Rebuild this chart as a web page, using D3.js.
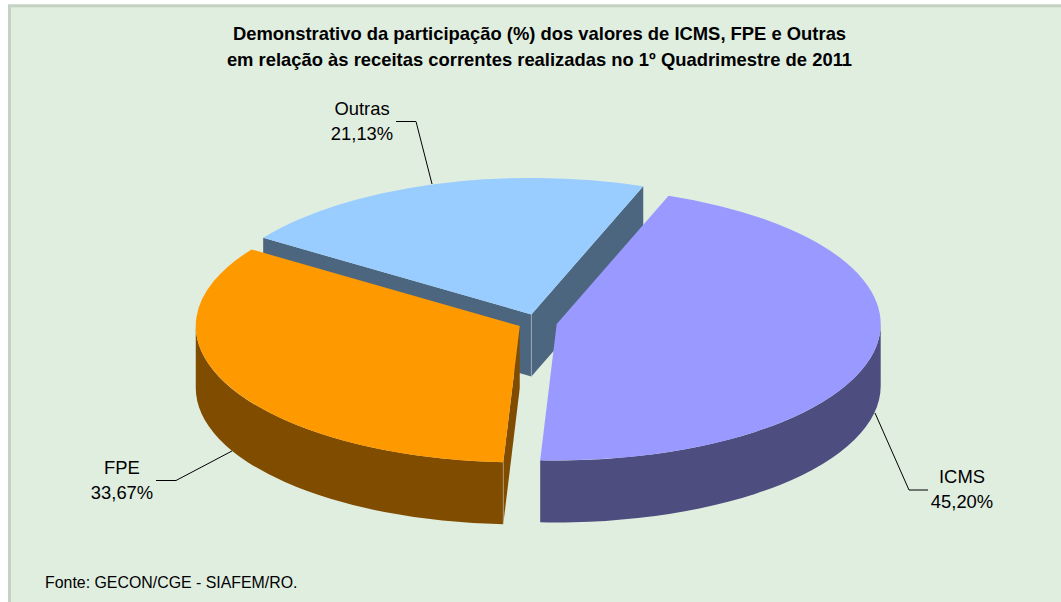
<!DOCTYPE html>
<html>
<head>
<meta charset="utf-8">
<script src="https://cdnjs.cloudflare.com/ajax/libs/d3/7.8.5/d3.min.js"></script>
<style>
  html, body { margin: 0; padding: 0; background: #fff; }
  svg { display: block; }
  text { font-family: "Liberation Sans", Arial, sans-serif; fill: #000; }
</style>
</head>
<body>
<svg id="chart" width="1061" height="602"></svg>
<script>
// ── Data ─────────────────────────────────────────────
const categories = ['ICMS', 'FPE', 'Outras'];
const values     = [45.20, 33.67, 21.13];
const valueLabels = ['45,20%', '33,67%', '21,13%'];
const topColors  = ['#9999ff', '#ff9900', '#99ccff'];
const sideColors = ['#4d4d80', '#804d00', '#4d6680'];
const titleLines = [
  'Demonstrativo da participação (%) dos valores de ICMS, FPE e Outras',
  'em relação às receitas correntes realizadas no 1º Quadrimestre de 2011'
];
const sourceNote = 'Fonte: GECON/CGE - SIAFEM/RO.';

// ── Layout ───────────────────────────────────────────
const W = 1061, H = 602;
const cx = 537.4, cy = 322.3;
const rx = 324, ry = 136.5;
const depth = 62;
const explode = 19.7;
const firstAngle = 20.2 * Math.PI / 180;
const squash = ry / rx;

const svg = d3.select('#chart');

svg.append('rect')
  .attr('x', 9.5).attr('y', 5.8)
  .attr('width', W).attr('height', H)
  .attr('fill', '#e0eee0')
  .attr('stroke', '#c3d2c3')
  .attr('stroke-width', 3);

svg.append('g').selectAll('text')
  .data(titleLines)
  .join('text')
    .attr('x', 539.5)
    .attr('y', (d, i) => 40 + i * 26)
    .attr('text-anchor', 'middle')
    .attr('font-size', 18.4)
    .attr('font-weight', 'bold')
    .text(d => d);

svg.append('text')
  .attr('x', 45).attr('y', 588)
  .attr('font-size', 15.9)
  .text(sourceNote);

// ── Pie ──────────────────────────────────────────────
const pie = d3.pie().sort(null)
  .startAngle(firstAngle)
  .endAngle(firstAngle + 2 * Math.PI);
const slices = pie(values);
const arcTop = d3.arc().innerRadius(0).outerRadius(rx);

// rim point of a slice at angle a (clockwise from north)
const rim = (o, a) => [o[0] + Math.sin(a) * rx, o[1] - Math.cos(a) * ry];

function offset(s) {
  const mid = (s.startAngle + s.endAngle) / 2;
  return [cx + Math.sin(mid) * explode, cy - Math.cos(mid) * explode * squash];
}

// Flat cut face running from the slice apex to the rim at angle a
function cutFace(o, a) {
  const [x, y] = rim(o, a);
  return `M${o[0]},${o[1]}L${x},${y}L${x},${y + depth}L${o[0]},${o[1] + depth}Z`;
}

// Outer wall, front half only (90°–270° clockwise from north)
function outerWall(o, s) {
  const a0 = Math.max(s.startAngle, Math.PI / 2);
  const a1 = Math.min(s.endAngle, 3 * Math.PI / 2);
  if (a1 <= a0) return null;
  const [x0, y0] = rim(o, a0);
  const [x1, y1] = rim(o, a1);
  return `M${x0},${y0}A${rx},${ry} 0 0 1 ${x1},${y1}` +
         `L${x1},${y1 + depth}A${rx},${ry} 0 0 0 ${x0},${y0 + depth}Z`;
}

function edge(g, x, y) {
  g.append('line')
    .attr('x1', x).attr('y1', y)
    .attr('x2', x).attr('y2', y + depth)
    .attr('stroke', '#fff')
    .attr('stroke-opacity', 0.3)
    .attr('stroke-width', 1);
}

// Back to front so nearer slices cover the farther ones
const order = [2, 1, 0];
const pieG = svg.append('g');

order.forEach(i => {
  const s = slices[i];
  const o = offset(s);
  const g = pieG.append('g');

  // A cut face is drawn only when its normal points towards the viewer
  const startFace = Math.sin(s.startAngle) < 0;
  const endFace   = Math.sin(s.endAngle) > 0;
  if (startFace) g.append('path').attr('d', cutFace(o, s.startAngle)).attr('fill', sideColors[i]);
  if (endFace)   g.append('path').attr('d', cutFace(o, s.endAngle)).attr('fill', sideColors[i]);

  const wall = outerWall(o, s);
  if (wall) g.append('path').attr('d', wall).attr('fill', sideColors[i]);

  // Faint seam where two visible side faces meet
  if (startFace && endFace) edge(g, o[0], o[1]);
  else if (startFace && wall) edge(g, ...rim(o, s.startAngle));

  g.append('path')
    .attr('transform', `translate(${o[0]},${o[1]}) scale(1,${squash})`)
    .attr('d', arcTop(s))
    .attr('fill', topColors[i]);
});

// ── Leader lines and labels ──────────────────────────
const leaderPoints = [
  [[875, 413], [909, 490], [928, 490]],
  [[232, 451], [176, 480.5], [156, 480.5]],
  [[432, 184], [416, 121.5], [396, 121.5]]
];
const labelPos = [[962, 483], [122, 474], [362, 115]];
const line = d3.line();

svg.append('g').selectAll('path')
  .data(leaderPoints)
  .join('path')
    .attr('d', d => line(d))
    .attr('fill', 'none')
    .attr('stroke', '#000')
    .attr('stroke-width', 1);

categories.forEach((c, i) => {
  const t = svg.append('text')
    .attr('x', labelPos[i][0]).attr('y', labelPos[i][1])
    .attr('text-anchor', 'middle')
    .attr('font-size', 18.4);
  t.append('tspan').attr('x', labelPos[i][0]).text(c);
  t.append('tspan').attr('x', labelPos[i][0]).attr('dy', 25).text(valueLabels[i]);
});
</script>
</body>
</html>
